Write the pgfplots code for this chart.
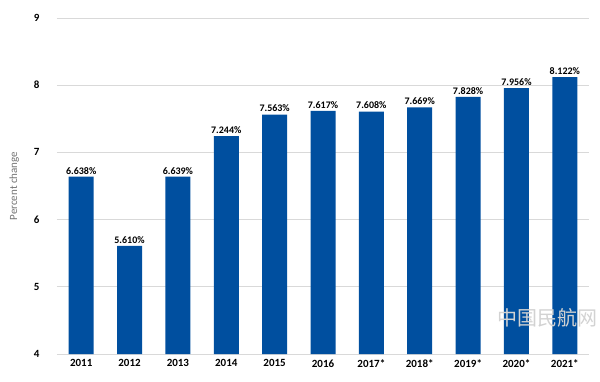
\documentclass[border=0pt]{standalone}
\usepackage{pgfplots}
\pgfplotsset{compat=1.18}
\usepackage{fontspec}
\setmainfont{Carlito}
\newfontfamily\cjk{Noto Sans CJK SC}
\definecolor{barblue}{HTML}{004F9F}
\definecolor{gridgray}{HTML}{D9D9D9}
\begin{document}
\begin{tikzpicture}
\useasboundingbox (-57pt,-27pt) rectangle (543pt,354pt);
\begin{axis}[
  anchor=south west, at={(0pt,0pt)},
  scale only axis, width=532pt, height=336pt,
  xmin=-0.5, xmax=10.5, ymin=4, ymax=9,
  ytick={4,5,6,7,8,9},
  xtick={0,...,10},
  xticklabels={2011,2012,2013,2014,2015,2016,2017*,2018*,2019*,2020*,2021*},
  axis line style={draw=none},
  ymajorgrids, grid style={gridgray, line width=1pt},
  major tick length=0pt,
  tick label style={font=\bfseries\fontsize{11}{12}\selectfont},
  yticklabel style={xshift=-14pt},
  xticklabel style={yshift=-2pt},
  ylabel={Percent change},
  ylabel style={font=\fontsize{11}{12}\selectfont, text=gray!90!black, yshift=8pt},
  /pgf/number format/assume math mode=true,
  clip=false,
]
\addplot[ybar, bar width=25pt, fill=barblue, draw=none,
  nodes near coords={\pgfmathprintnumber[fixed, precision=3, fixed zerofill]{\pgfplotspointmeta}\%},
  nodes near coords style={font=\bfseries\fontsize{10}{12}\selectfont, black, yshift=-1pt},
  point meta=y]
coordinates {(0,6.638) (1,5.610) (2,6.639) (3,7.244) (4,7.563) (5,7.617) (6,7.608) (7,7.669) (8,7.828) (9,7.956) (10,8.122)};
\end{axis}
\node[gray!35, font=\cjk\fontsize{20}{22}\selectfont] at (490pt,36pt) {中国民航网};
\end{tikzpicture}
\end{document}
